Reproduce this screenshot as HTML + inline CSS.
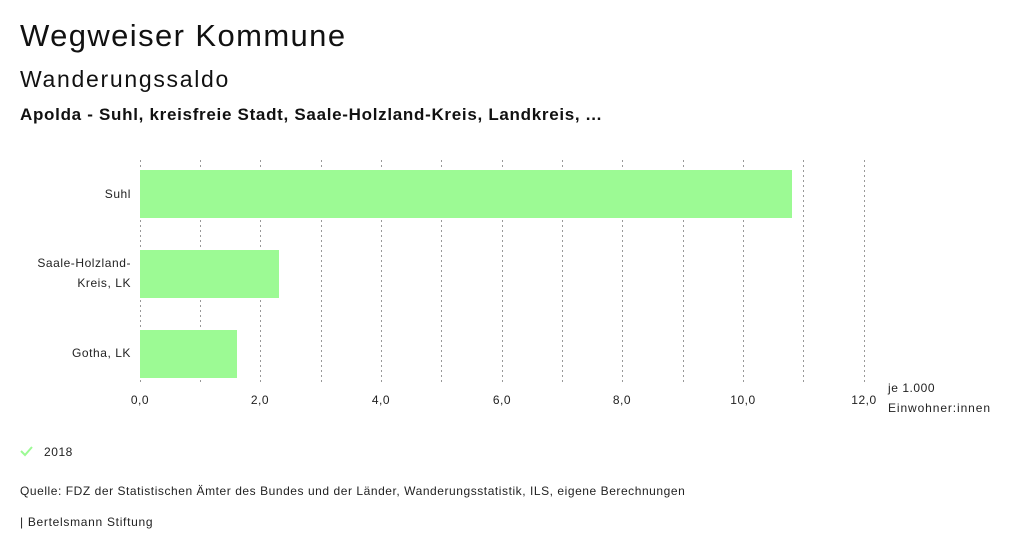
<!DOCTYPE html>
<html><head><meta charset="utf-8"><style>
body{margin:0;width:1024px;height:554px;background:#fff;font-family:"Liberation Sans",sans-serif;color:#111;position:relative;overflow:hidden}
.a{position:absolute;white-space:nowrap}
</style></head><body>
<div class="a" style="left:20px;top:18px;font-size:31px;letter-spacing:1.4px">Wegweiser Kommune</div>
<div class="a" style="left:20px;top:66px;font-size:23px;letter-spacing:1.7px">Wanderungssaldo</div>
<div class="a" style="left:20px;top:105px;font-size:17px;font-weight:bold;letter-spacing:0.7px">Apolda - Suhl, kreisfreie Stadt, Saale-Holzland-Kreis, Landkreis, ...</div>
<svg class="a" style="left:0;top:0" width="1024" height="554" letter-spacing="0.55">
<g stroke="#999" stroke-dasharray="2,3" stroke-width="1">
<line x1="140.5" y1="160" x2="140.5" y2="383"/><line x1="200.5" y1="160" x2="200.5" y2="383"/><line x1="260.5" y1="160" x2="260.5" y2="383"/><line x1="321.5" y1="160" x2="321.5" y2="383"/><line x1="381.5" y1="160" x2="381.5" y2="383"/><line x1="441.5" y1="160" x2="441.5" y2="383"/><line x1="502.5" y1="160" x2="502.5" y2="383"/><line x1="562.5" y1="160" x2="562.5" y2="383"/><line x1="622.5" y1="160" x2="622.5" y2="383"/><line x1="683.5" y1="160" x2="683.5" y2="383"/><line x1="743.5" y1="160" x2="743.5" y2="383"/><line x1="803.5" y1="160" x2="803.5" y2="383"/><line x1="864.5" y1="160" x2="864.5" y2="383"/>
</g>
<g fill="#9cfa94">
<rect x="140" y="170" width="652" height="48"/>
<rect x="140" y="250" width="139" height="48"/>
<rect x="140" y="330" width="97" height="48"/>
</g>
<g font-size="12" fill="#222" text-anchor="end">
<text x="131" y="198">Suhl</text>
<text x="131" y="267">Saale-Holzland-</text>
<text x="131" y="287">Kreis, LK</text>
<text x="131" y="357">Gotha, LK</text>
</g>
<g font-size="12" fill="#222" text-anchor="middle">
<text x="140" y="404">0,0</text><text x="260" y="404">2,0</text><text x="381" y="404">4,0</text><text x="502" y="404">6,0</text><text x="622" y="404">8,0</text><text x="743" y="404">10,0</text><text x="864" y="404">12,0</text>
</g>
<text x="888" y="392" font-size="12" fill="#222">je 1.000</text>
<text x="888" y="412" font-size="12" fill="#222" letter-spacing="0.9">Einwohner:innen</text>
<polyline points="21,451 25,455 32,447" fill="none" stroke="#9cfa94" stroke-width="2"/>
<text x="44" y="456" font-size="12" fill="#222">2018</text>
<text x="20" y="495" font-size="12" fill="#222">Quelle: FDZ der Statistischen Ämter des Bundes und der Länder, Wanderungsstatistik, ILS, eigene Berechnungen</text>
<text x="20" y="526" font-size="12" fill="#222" letter-spacing="0.7">| Bertelsmann Stiftung</text>
</svg>
</body></html>
